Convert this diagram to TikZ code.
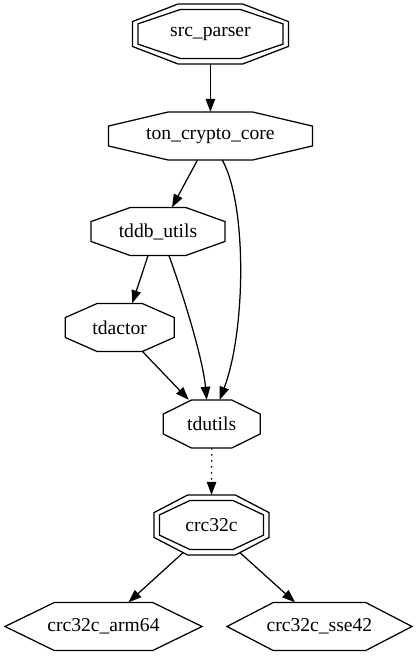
\documentclass[tikz,border=0pt]{standalone}
\usepackage{fontspec}
\setmainfont{Liberation Serif}
\usetikzlibrary{arrows.meta}
\tikzset{
  lbl/.style={draw=none, inner sep=0pt, font=\fontsize{19.6}{22}\selectfont},
  shapeline/.style={line width=1.25pt, line join=miter},
  edge/.style={line width=1.25pt, -{Triangle[length=13pt,width=9.5pt]}},
  dottededge/.style={edge, dash pattern=on 1.5pt off 4.5pt},
}
\newcommand{\octag}[3]{\draw[shapeline, shift={(#1.center)}] (-0.4142*#2,-#3) -- (0.4142*#2,-#3) -- (#2,-0.4142*#3) -- (#2,0.4142*#3) -- (0.4142*#2,#3) -- (-0.4142*#2,#3) -- (-#2,0.4142*#3) -- (-#2,-0.4142*#3) -- cycle;}
\newcommand{\hexag}[3]{\draw[shapeline, shift={(#1.center)}] (-0.5*#2,-#3) -- (0.5*#2,-#3) -- (#2,0) -- (0.5*#2,#3) -- (-0.5*#2,#3) -- (-#2,0) -- cycle;}
\begin{document}
\begin{tikzpicture}[x=1pt,y=-1pt]
\fill[white] (0,0) rectangle (418,656);
\useasboundingbox (0,0) rectangle (418,656);
% nodes
\node[lbl, minimum width=156pt, minimum height=60pt] (src) at (210.4,34) {src\_parser};
\node[lbl, minimum width=204pt, minimum height=48pt] (tcc) at (210.4,136) {ton\_crypto\_core};
\node[lbl, minimum width=134pt, minimum height=48pt] (tddb) at (158,231.5) {tddb\_utils};
\node[lbl, minimum width=109pt, minimum height=48pt] (tda) at (119.7,327.5) {tdactor};
\node[lbl, minimum width=97pt, minimum height=48pt] (tdu) at (211.7,424) {tdutils};
\node[lbl, minimum width=115pt, minimum height=60pt] (crc) at (211.5,525) {crc32c};
\node[lbl, minimum width=197pt, minimum height=48pt] (arm) at (103.5,626.5) {crc32c\_arm64};
\node[lbl, minimum width=185pt, minimum height=48pt] (sse) at (319.5,626.5) {crc32c\_sse42};
% shapes
\octag{src}{78}{30}
\octag{src}{72.5}{24.5}
\octag{tcc}{102}{24}
\octag{tddb}{67}{24}
\octag{tda}{54.5}{24}
\octag{tdu}{48.5}{24}
\octag{crc}{57.5}{30}
\octag{crc}{52}{24.5}
\hexag{arm}{98.5}{24}
\hexag{sse}{92.5}{24}
% edges
\draw[edge] (src.south) -- (tcc.north);
\draw[edge] ([xshift=-13pt]tcc.south) -- ([xshift=14pt]tddb.north);
\draw[edge] ([xshift=12pt]tcc.south) .. controls (247,205) and (246,330) .. ([xshift=8pt]tdu.north);
\draw[edge] ([xshift=-10pt]tddb.south) -- ([xshift=12.5pt]tda.north);
\draw[edge] ([xshift=11pt]tddb.south) .. controls (185,300) and (203,360) .. ([xshift=-5pt]tdu.north);
\draw[edge] ([xshift=23pt]tda.south) -- ([xshift=-23pt]tdu.north);
\draw[dottededge] (tdu.south) -- (crc.north);
\draw[edge] ([xshift=-28.5pt,yshift=2.5pt]crc.south) -- ([xshift=25pt]arm.north);
\draw[edge] ([xshift=28.5pt,yshift=2.5pt]crc.south) -- ([xshift=-24.5pt]sse.north);
\end{tikzpicture}
\end{document}
